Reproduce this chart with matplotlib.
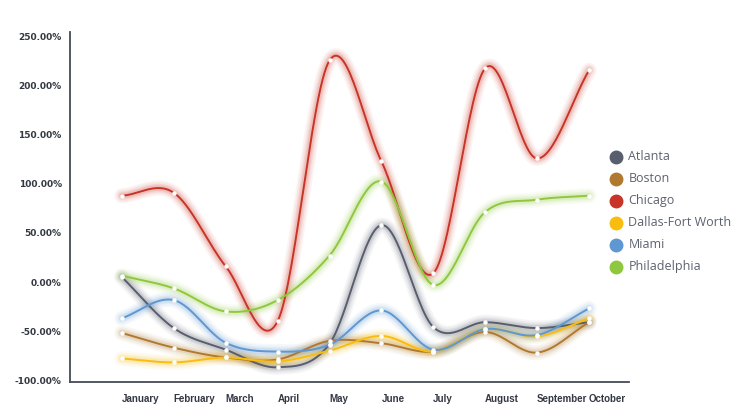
import numpy as np
import matplotlib
matplotlib.use("Agg")
import matplotlib.pyplot as plt
from matplotlib.lines import Line2D
import matplotlib.transforms as mtransforms

months = ["January", "February", "March", "April", "May", "June",
          "July", "August", "September", "October"]
atlanta = [5, -47, -69, -87, -63, 58, -46, -41, -47, -41]
boston = [-52, -67, -77, -79, -60, -62.5, -71, -51, -72, -41]
chicago = [88, 91, 16, -40, 226, 123, 9, 218, 126, 216]
dallas = [-78, -82, -77, -81, -70, -55, -71, -48, -55.5, -37]
miami = [-37, -18.5, -62, -71, -64, -29, -69, -48, -54, -27]
philadelphia = [6.5, -6.5, -30, -18.5, 27, 102.5, -3, 71.5, 84, 88]

series = [
    ("Atlanta", atlanta, "#585e6d"),
    ("Boston", boston, "#b07930"),
    ("Chicago", chicago, "#c83427"),
    ("Dallas-Fort Worth", dallas, "#f9bd10"),
    ("Miami", miami, "#5e97d1"),
    ("Philadelphia", philadelphia, "#8fc73e"),
]
yticks = [-100, -50, 0, 50, 100, 150, 200, 250]


def catmull_rom(x, y, n=30):
    x = np.asarray(x, float)
    y = np.asarray(y, float)
    px = np.concatenate([[2 * x[0] - x[1]], x, [2 * x[-1] - x[-2]]])
    py = np.concatenate([[2 * y[0] - y[1]], y, [2 * y[-1] - y[-2]]])
    xs, ys = [], []
    t = np.linspace(0, 1, n, endpoint=False)
    for i in range(1, len(px) - 2):
        for arr, out in ((px, xs), (py, ys)):
            p0, p1, p2, p3 = arr[i - 1], arr[i], arr[i + 1], arr[i + 2]
            out.append(0.5 * ((2 * p1) + (-p0 + p2) * t
                              + (2 * p0 - 5 * p1 + 4 * p2 - p3) * t ** 2
                              + (-p0 + 3 * p1 - 3 * p2 + p3) * t ** 3))
    xs.append([x[-1]])
    ys.append([y[-1]])
    return np.concatenate(xs), np.concatenate(ys)


fig = plt.figure(figsize=(7.48, 4.16), dpi=100)
ax = fig.add_axes([70 / 748, 1 - 382 / 416, (629 - 70) / 748, (382 - 32) / 416])

x = np.arange(len(months))
for name, vals, col in series:
    sx, sy = catmull_rom(x, vals)
    for lw, a in ((11, 0.05), (8.5, 0.07), (6, 0.10), (4, 0.12)):
        ax.plot(sx, sy, color=col, lw=lw, alpha=a, solid_capstyle="round", zorder=2)
    ax.plot(sx, sy, color=col, lw=1.4, zorder=3)
    ax.plot(x, vals, linestyle="none", marker="o", ms=2.2, mfc="white",
            mec="white", zorder=4)

ax.set_xlim(-1.0, 9.77)
ax.set_ylim(-102, 255)
ax.set_yticks(yticks)
ax.set_yticklabels([f"{v:.2f}%" for v in yticks])
ax.set_xticks(x)
ax.set_xticklabels(months, ha="left")
offset = mtransforms.ScaledTranslation(-4 / 100, 0, fig.dpi_scale_trans)
for lab in ax.get_xticklabels():
    lab.set_transform(lab.get_transform() + offset)

for s in ("top", "right"):
    ax.spines[s].set_visible(False)
for s in ("left", "bottom"):
    ax.spines[s].set_color("#454a55")
    ax.spines[s].set_linewidth(1.3)
ax.tick_params(axis="both", length=0, colors="#333842")
ax.tick_params(axis="y", pad=6, labelsize=6.5)
ax.tick_params(axis="x", pad=9, labelsize=7)
for lab in ax.get_yticklabels():
    lab.set_fontweight("bold")
    lab.set_fontfamily("DejaVu Sans")
for lab in ax.get_xticklabels():
    lab.set_fontweight("bold")
    lab.set_fontfamily("Liberation Sans")

leg_y = [156.5, 178.5, 200.5, 222.5, 244.5, 266.5]
for (name, vals, col), yy in zip(series, leg_y):
    fy = 1 - yy / 416
    fig.add_artist(Line2D([616 / 748], [fy], marker="o", ms=9, color=col,
                          transform=fig.transFigure, linestyle="none"))
    fig.text(628.5 / 748, fy, name, fontsize=9, family="Open Sans", color="#5d6270",
             va="center", ha="left")

fig.savefig("out.png", dpi=100)
